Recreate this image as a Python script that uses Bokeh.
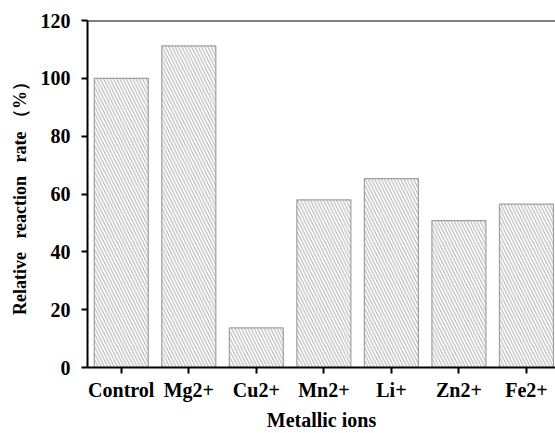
from bokeh.plotting import figure
from bokeh.models import Range1d, FixedTicker, Span, ColumnDataSource
from bokeh.embed import file_html
from bokeh.resources import INLINE

categories = ["Control", "Mg2+", "Cu2+", "Mn2+", "Li+", "Zn2+", "Fe2+"]
values = [100.0, 111.2, 13.7, 58.0, 65.3, 50.8, 56.5]
y_ticks = [0, 20, 40, 60, 80, 100, 120]

xs = list(range(len(categories)))
src = ColumnDataSource(dict(x=xs, top=values))

p = figure(width=555, height=433, output_backend="svg", toolbar_location=None,
           x_range=Range1d(-0.5, 6.43), y_range=Range1d(0, 120),
           min_border_left=87, min_border_right=0, min_border_top=20, min_border_bottom=66)

p.vbar(x="x", top="top", width=0.8, source=src, fill_color="white",
       line_color="#a0a0a0", line_width=1.2,
       hatch_pattern="left_diagonal_line", hatch_color="#9c9c9c",
       hatch_scale=6.5, hatch_weight=0.9)

p.outline_line_color = None
p.add_layout(Span(location=120, dimension="width", line_color="black", line_width=2))
p.xgrid.visible = False
p.ygrid.visible = False
p.background_fill_color = "white"
p.border_fill_color = "white"

font = "Liberation Serif"
p.xaxis.ticker = FixedTicker(ticks=xs)
p.xaxis.major_label_overrides = {i: c for i, c in zip(xs, categories)}
p.yaxis.ticker = FixedTicker(ticks=y_ticks)

for ax in (p.xaxis, p.yaxis):
    ax.axis_line_width = 2
    ax.axis_line_color = "black"
    ax.major_tick_line_width = 2
    ax.major_tick_line_color = "black"
    ax.major_tick_out = 6
    ax.major_tick_in = 0
    ax.minor_tick_line_color = None
    ax.major_label_text_font = font
    ax.major_label_text_font_style = "bold"
    ax.major_label_text_font_size = "20px"
    ax.major_label_text_color = "black"
    ax.axis_label_text_font = font
    ax.axis_label_text_font_style = "bold"
    ax.axis_label_text_color = "black"

p.xaxis.axis_label_text_font_size = "20px"
p.yaxis.axis_label_text_font_size = "18px"
p.xaxis.axis_label = "Metallic ions"
p.yaxis.axis_label = "Relative\u00a0\u00a0\u00a0reaction\u00a0\u00a0\u00a0rate\u00a0（%）"
p.xaxis.major_label_standoff = 5
p.xaxis.axis_label_standoff = 5
p.yaxis.major_label_standoff = 11
p.yaxis.axis_label_standoff = 8

open("out.html", "w").write(file_html(p, INLINE))
